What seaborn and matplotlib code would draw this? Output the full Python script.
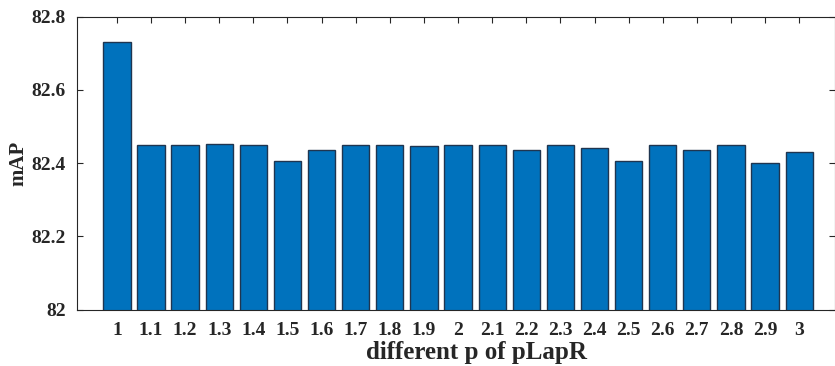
import matplotlib
matplotlib.use("Agg")
import matplotlib.pyplot as plt
import seaborn as sns
import pandas as pd

p_labels = ["1", "1.1", "1.2", "1.3", "1.4", "1.5", "1.6", "1.7", "1.8", "1.9", "2",
            "2.1", "2.2", "2.3", "2.4", "2.5", "2.6", "2.7", "2.8", "2.9", "3"]
map_values = [82.73, 82.449, 82.450, 82.451, 82.449, 82.405, 82.436, 82.449, 82.449, 82.446, 82.450,
              82.450, 82.435, 82.450, 82.442, 82.406, 82.450, 82.436, 82.450, 82.399, 82.431]
y_ticks = [82.0, 82.2, 82.4, 82.6, 82.8]
y_tick_labels = ["82", "82.2", "82.4", "82.6", "82.8"]

sns.set_theme(style="white")
plt.rcParams['font.family'] = ['Liberation Serif', 'DejaVu Serif']
plt.rcParams['font.weight'] = 'bold'

df = pd.DataFrame({"p": p_labels, "mAP": map_values})

fig = plt.figure(figsize=(8.35, 3.66), dpi=100)
ax = fig.add_axes([77/835, 1 - 309.5/366, (835 - 77)/835, (309.5 - 16.7)/366])

sns.barplot(data=df, x="p", y="mAP", ax=ax, color="#0072BD", saturation=1,
            width=0.8, edgecolor="#1f3550", linewidth=1.0)

ax.set_ylim(82.0, 82.8)
ax.set_xlim(-1.17, 20.0 + 1.05)
ax.set_yticks(y_ticks)
ax.set_yticklabels(y_tick_labels, fontsize=14, fontweight='bold')
ax.set_xticks(range(len(p_labels)))
ax.set_xticklabels(p_labels, fontsize=14, fontweight='bold')

ax.tick_params(axis='both', which='both', direction='in', length=4, width=0.8,
               color='#262626', top=True, right=True, bottom=True, left=True)
ax.tick_params(axis='y', pad=8)
ax.tick_params(axis='x', pad=9)

for s in ax.spines.values():
    s.set_visible(True)
    s.set_color('#262626')
    s.set_linewidth(0.8)

ax.set_xlabel("different p of pLapR", fontsize=18, fontweight='bold')
ax.set_ylabel("mAP", fontsize=15, fontweight='bold')
ax.xaxis.set_label_coords(0.527, -0.107)
ax.yaxis.set_label_coords(-0.064, 0.5)

fig.savefig("out.png", dpi=100)
